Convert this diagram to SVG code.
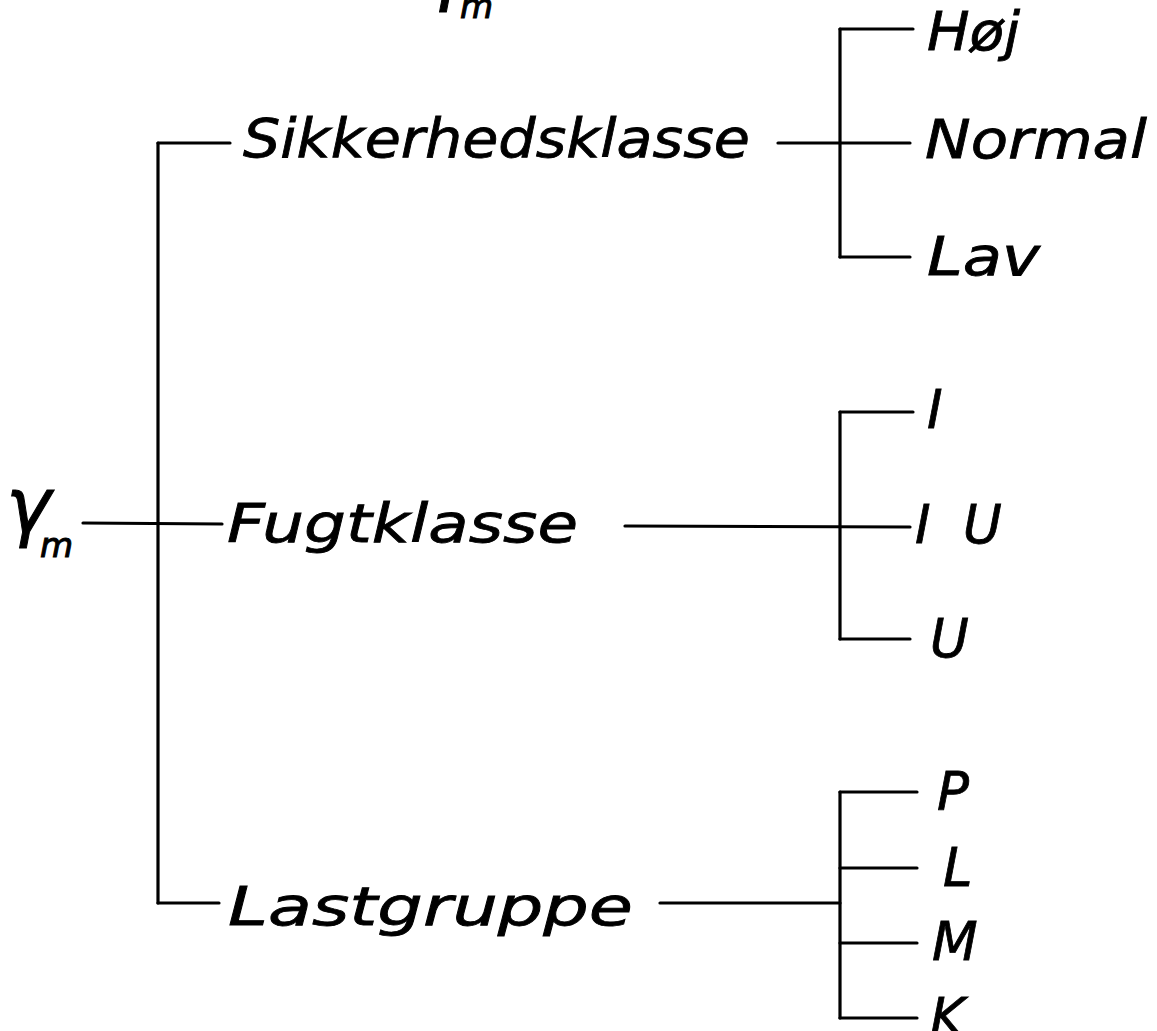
<svg xmlns="http://www.w3.org/2000/svg" width="1157" height="1031" viewBox="0 0 1157 1031">
<style>
.t{font-family:"DejaVu Sans","Liberation Sans",sans-serif;font-style:oblique;fill:#000;stroke:#000;stroke-width:0.8;font-size:53px}
.g{font-family:"DejaVu Sans","Liberation Sans",sans-serif;font-style:oblique;fill:#000;stroke:#000;stroke-width:1;font-size:76px}
.s{font-size:34px}
.c line{stroke:#000;stroke-width:3.2;stroke-linecap:round}
</style>
<rect width="1157" height="1031" fill="#fff"/>
<g id="connectors" class="c">
  <line x1="158" y1="143" x2="158" y2="903"/>
  <line x1="158" y1="143" x2="230" y2="143"/>
  <line x1="83" y1="523" x2="222" y2="524"/>
  <line x1="158" y1="903" x2="219" y2="903"/>
  <line x1="778" y1="143" x2="910" y2="143"/>
  <line x1="840" y1="29" x2="840" y2="257"/>
  <line x1="840" y1="29" x2="913" y2="29"/>
  <line x1="840" y1="257" x2="910" y2="257"/>
  <line x1="625" y1="526" x2="910" y2="527"/>
  <line x1="840" y1="412" x2="840" y2="639"/>
  <line x1="840" y1="412" x2="913" y2="412"/>
  <line x1="840" y1="639" x2="910" y2="639"/>
  <line x1="660" y1="903" x2="840" y2="903"/>
  <line x1="840" y1="792" x2="840" y2="1018"/>
  <line x1="840" y1="792" x2="917" y2="792"/>
  <line x1="840" y1="868" x2="917" y2="868"/>
  <line x1="840" y1="943" x2="917" y2="943"/>
  <line x1="840" y1="1018" x2="917" y2="1018"/>
</g>
<g id="title">
  <text class="g" x="426" y="-4">γ<tspan class="s" x="460" y="18">m</tspan></text>
</g>
<g id="root">
  <text class="g" x="6" y="532">γ<tspan class="s" x="40" y="557">m</tspan></text>
</g>
<g id="sikkerhedsklasse"><text class="t" x="243" y="157" textLength="507" lengthAdjust="spacingAndGlyphs">Sikkerhedsklasse</text></g>
<g id="fugtklasse"><text class="t" x="227" y="542" textLength="351" lengthAdjust="spacingAndGlyphs">Fugtklasse</text></g>
<g id="lastgruppe"><text class="t" x="228" y="925" textLength="405" lengthAdjust="spacingAndGlyphs">Lastgruppe</text></g>
<g id="hoej"><text class="t" x="927" y="50" textLength="93" lengthAdjust="spacingAndGlyphs">Høj</text></g>
<g id="normal"><text class="t" x="925" y="158" textLength="222" lengthAdjust="spacingAndGlyphs">Normal</text></g>
<g id="lav"><text class="t" x="927" y="275" textLength="113" lengthAdjust="spacingAndGlyphs">Lav</text></g>
<g id="I"><text class="t" x="927" y="428">I</text></g>
<g id="IU"><text class="t" x="915" y="543">I<tspan x="963">U</tspan></text></g>
<g id="U"><text class="t" x="930" y="657">U</text></g>
<g id="P"><text class="t" x="937" y="810">P</text></g>
<g id="L"><text class="t" x="943" y="886">L</text></g>
<g id="M"><text class="t" x="932" y="960">M</text></g>
<g id="K"><text class="t" x="930" y="1036">K</text></g>
</svg>
